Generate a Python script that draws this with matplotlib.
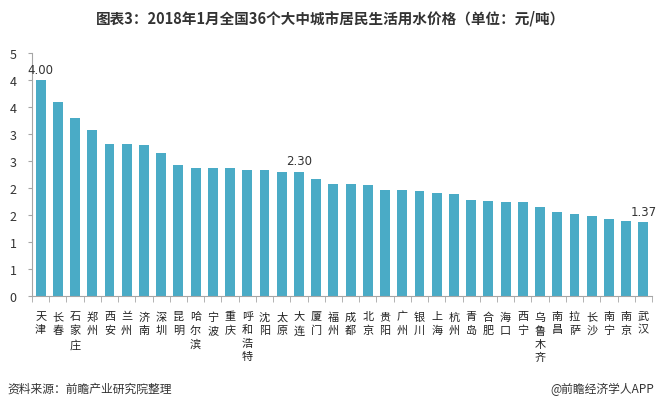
import numpy as np
import matplotlib
matplotlib.use("Agg")
import matplotlib.pyplot as plt
from matplotlib.ticker import FuncFormatter, MultipleLocator

plt.rcParams['font.family'] = ['Noto Sans CJK SC', 'DejaVu Sans']

# data
cities = ["天津", "长春", "石家庄", "郑州", "西安", "兰州", "济南", "深圳", "昆明",
          "哈尔滨", "宁波", "重庆", "呼和浩特", "沈阳", "太原", "大连", "厦门", "福州",
          "成都", "北京", "贵阳", "广州", "银川", "上海", "杭州", "青岛", "合肥",
          "海口", "西宁", "乌鲁木齐", "南昌", "拉萨", "长沙", "南宁", "南京", "武汉"]
prices = [4.00, 3.59, 3.30, 3.08, 2.82, 2.82, 2.79, 2.64, 2.42,
          2.37, 2.37, 2.37, 2.34, 2.34, 2.30, 2.30, 2.17, 2.08,
          2.07, 2.05, 1.97, 1.96, 1.94, 1.90, 1.88, 1.78, 1.76,
          1.74, 1.74, 1.65, 1.56, 1.52, 1.48, 1.43, 1.39, 1.37]
labelled = ["天津", "大连", "武汉"]

title = "图表3：2018年1月全国36个大中城市居民生活用水价格（单位：元/吨）"
source = "资料来源：前瞻产业研究院整理"
brand = "@前瞻经济学人APP"

bar_color = "#4aabc6"
axis_color = "#a6a6a6"

fig = plt.figure(figsize=(6.61, 4.10), dpi=100)
ax = fig.add_axes([32 / 661, (410 - 297) / 410, (652 - 32) / 661, 243 / 410])

x = np.arange(len(cities))
ax.bar(x, prices, width=0.58, color=bar_color)

for i, (c, v) in enumerate(zip(cities, prices)):
    if c in labelled:
        ax.text(i, v + 0.08, f"{v:.2f}", ha="center", va="bottom", fontsize=8.5,
                color="#333333", family="DejaVu Sans")

ax.set_xlim(-0.5, len(cities) - 0.5)
ax.set_ylim(0, 4.5)

ax.yaxis.set_major_locator(MultipleLocator(0.5))
ax.yaxis.set_major_formatter(FuncFormatter(lambda v, p: str(int(v + 0.5))))
ax.tick_params(axis="y", length=3, color=axis_color, labelsize=9, labelcolor="#333333", pad=8)

ax.set_xticks(x)
ax.set_xticklabels(["\n".join(c) for c in cities], fontsize=8, color="#222222",
                   linespacing=1.4, va="top")
ax.tick_params(axis="x", length=0, pad=11)
ax.set_xticks(np.arange(-0.5, len(cities), 1), minor=True)
ax.tick_params(axis="x", which="minor", length=4, color=axis_color)

for s in ["top", "right"]:
    ax.spines[s].set_visible(False)
for s in ["left", "bottom"]:
    ax.spines[s].set_color(axis_color)
    ax.spines[s].set_linewidth(0.8)

fig.text(0.5, 1 - 18 / 410, title, ha="center", va="center", fontsize=10.5,
         fontweight="bold", color="#333333")
fig.text(7 / 661, 1 - 389 / 410, source, ha="left", va="center", fontsize=8.5,
         style="italic", color="#333333")
fig.text(654 / 661, 1 - 389 / 410, brand, ha="right", va="center", fontsize=8.5,
         color="#333333")

fig.savefig("out.png", dpi=100)
